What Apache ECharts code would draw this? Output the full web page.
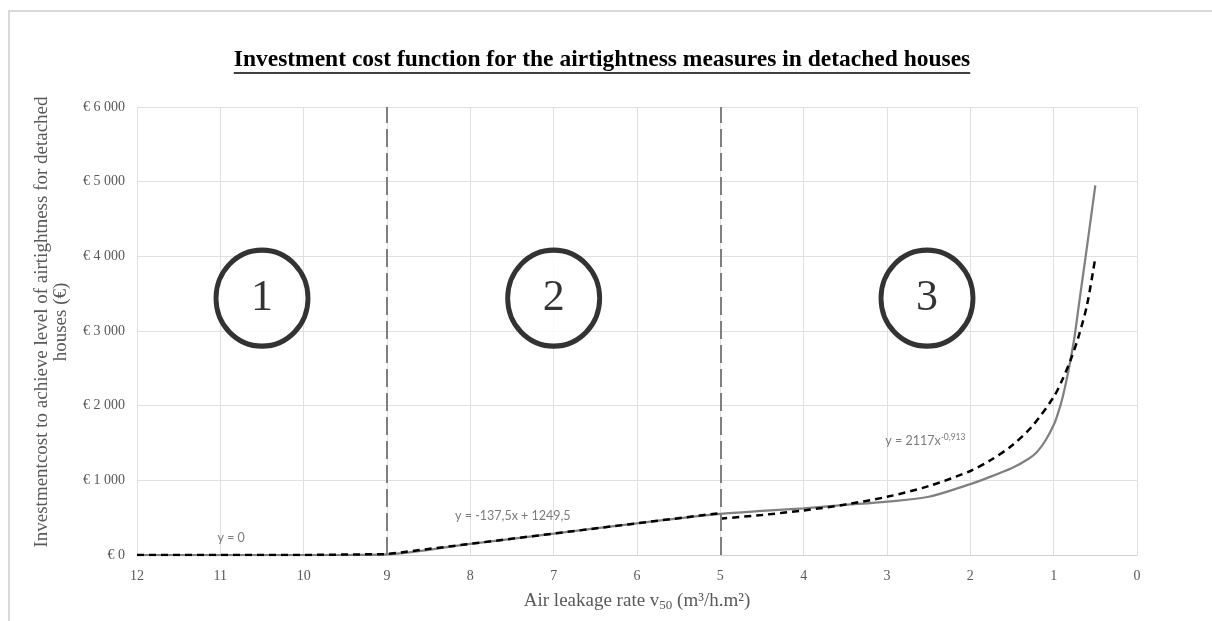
<!DOCTYPE html>
<html><head><meta charset="utf-8">
<script src="https://cdn.jsdelivr.net/npm/echarts@6/dist/echarts.min.js"></script>
<style>html,body{margin:0;padding:0;background:#fff}#c{width:1212px;height:621px}</style>
</head><body><div id="c"></div>
<script>
// ---- data ----
const titleText = 'Investment cost function for the airtightness measures in detached houses';
const yAxisTitle = 'Investmentcost to achieve level of airtightness for detached\nhouses (€)';
// measured cost curve (grey, solid)
const measX = [12, 11, 10, 9, 8, 7, 6, 5, 4.5, 4, 3.5, 3, 2.5, 2, 1.8, 1.5, 1.3, 1.2, 1.1, 1, 0.95, 0.9, 0.85, 0.8, 0.75, 0.7, 0.65, 0.6, 0.5];
const measY = [0, 0, 0, 10, 150, 285, 425, 550, 590, 625, 670, 715, 780, 950, 1030, 1165, 1290, 1380, 1530, 1740, 1890, 2080, 2320, 2600, 2920, 3330, 3730, 4130, 4950];
// trend lines (black, dashed)
const trendLinX = [12, 11, 10, 9, 5];
const trendLinY = [0, 0, 0, 12, 562];
const trendPowX = [5, 4.5, 4, 3.5, 3, 2.5, 2, 1.75, 1.5, 1.25, 1, 0.9, 0.8, 0.7, 0.6, 0.5];
const trendPowY = [487, 536, 597, 676, 779, 923, 1125, 1275, 1466, 1735, 2117, 2337, 2602, 2930, 3347, 3986];
// zone boundaries
const boundaries = [9, 5];
// zone markers
const zoneNames = ['1', '2', '3'];
const zoneX = [10.5, 7.0, 2.52];
const zoneY = [3440, 3440, 3440];
// equation labels
const eqX = [10.87, 7.49, 3.02];
const eqY = [228, 526, 1530];
const eqTexts = ['{b|y = 0}', '{b|y = -137,5x + 1249,5}', '{b|y = 2117x}{s|-0,913}'];
const eqAlign = ['center', 'center', 'left'];

const chart = echarts.init(document.getElementById('c'));
const fmt = v => '€ ' + String(v).replace(/\B(?=(\d{3})+(?!\d))/g, ' ');
const zip = (xs, ys) => xs.map((x, i) => [x, ys[i]]);

// title underline width
const cv = document.createElement('canvas').getContext('2d');
const titleFont = 'bold 23.5px "Liberation Serif"';
cv.font = titleFont;
const tw = cv.measureText(titleText).width;
const tcx = 602, tcy = 60;

const option = {
  backgroundColor: '#fff',
  animation: false,
  grid: { left: 137, right: 75, top: 107, bottom: 66 },
  xAxis: {
    type: 'value', min: 0, max: 12, interval: 1, inverse: true,
    name: '{a|Air leakage rate v}{s|50}{a| (m³/h.m²)}',
    nameLocation: 'middle', nameGap: 35,
    nameTextStyle: {
      rich: {
        a: { fontFamily: 'Liberation Serif', fontSize: 19, color: '#595959', lineHeight: 22 },
        s: { fontFamily: 'Liberation Serif', fontSize: 13, color: '#595959', lineHeight: 22, verticalAlign: 'bottom' }
      }
    },
    axisLine: { show: true, lineStyle: { color: '#d0d0d0', width: 1 } },
    axisTick: { show: false },
    splitLine: { show: true, lineStyle: { color: '#e0e0e0', width: 1 } },
    axisLabel: { margin: 14, fontFamily: 'Liberation Serif', fontSize: 14, color: '#595959' }
  },
  yAxis: {
    type: 'value', min: 0, max: 6000, interval: 1000,
    name: yAxisTitle, nameLocation: 'middle', nameGap: 66, nameRotate: 90,
    nameTextStyle: { fontFamily: 'Liberation Serif', fontSize: 19, color: '#595959', lineHeight: 19, padding: [0, 0, 0, 18] },
    axisLine: { show: false }, axisTick: { show: false },
    splitLine: { show: true, lineStyle: { color: '#e0e0e0', width: 1 } },
    axisLabel: { margin: 12, fontFamily: 'Liberation Serif', fontSize: 14, color: '#595959', formatter: fmt }
  },
  graphic: [
    { type: 'rect', shape: { x: 9, y: 11, width: 1400, height: 800 }, style: { fill: 'none', stroke: '#d9d9d9', lineWidth: 2 }, z: -10, silent: true },
    { type: 'text', x: tcx, y: tcy, style: { text: titleText, font: titleFont, fill: '#000', align: 'center', verticalAlign: 'middle' }, silent: true },
    { type: 'line', shape: { x1: tcx - tw / 2, y1: tcy + 13, x2: tcx + tw / 2, y2: tcy + 13 }, style: { stroke: '#000', lineWidth: 1.5 }, silent: true }
  ],
  series: [
    {
      name: 'boundaries', type: 'line', data: [], silent: true,
      markLine: {
        silent: true, symbol: 'none', label: { show: false },
        lineStyle: { color: '#7f7f7f', width: 2, type: [18, 6] },
        data: boundaries.map(b => ({ xAxis: b }))
      }
    },
    {
      name: 'measured', type: 'line', data: zip(measX, measY), smooth: 0.3, showSymbol: false,
      lineStyle: { color: '#808080', width: 2.25 }, z: 3
    },
    {
      name: 'trendLin', type: 'line', data: zip(trendLinX, trendLinY), showSymbol: false,
      lineStyle: { color: '#000', width: 2.5, type: [7, 5] }, z: 4
    },
    {
      name: 'trendPow', type: 'line', data: zip(trendPowX, trendPowY), smooth: 0.3, showSymbol: false,
      lineStyle: { color: '#000', width: 2.5, type: [7, 5] }, z: 4
    },
    {
      name: 'equations', type: 'scatter', silent: true, symbolSize: 1,
      itemStyle: { color: 'rgba(0,0,0,0)' },
      data: eqX.map((x, i) => ({ value: [x, eqY[i]], label: { align: eqAlign[i] } })),
      label: {
        show: true, position: 'inside',
        formatter: p => eqTexts[p.dataIndex],
        rich: {
          b: { fontFamily: 'Lato', fontSize: 12.5, color: '#595959', lineHeight: 16 },
          s: { fontFamily: 'Lato', fontSize: 8.5, color: '#595959', lineHeight: 16, verticalAlign: 'top' }
        }
      }, z: 5
    },
    {
      name: 'zones', type: 'scatter', silent: true, symbol: 'circle', symbolSize: [92, 96],
      itemStyle: { color: '#fff', borderColor: '#000', borderWidth: 5 },
      data: zoneX.map((x, i) => [x, zoneY[i], zoneNames[i]]),
      label: {
        show: true, position: 'inside', formatter: p => p.value[2],
        fontFamily: 'Liberation Serif', fontSize: 44, color: '#000'
      }, z: 6
    }
  ]
};
chart.setOption(option);
</script></body></html>
